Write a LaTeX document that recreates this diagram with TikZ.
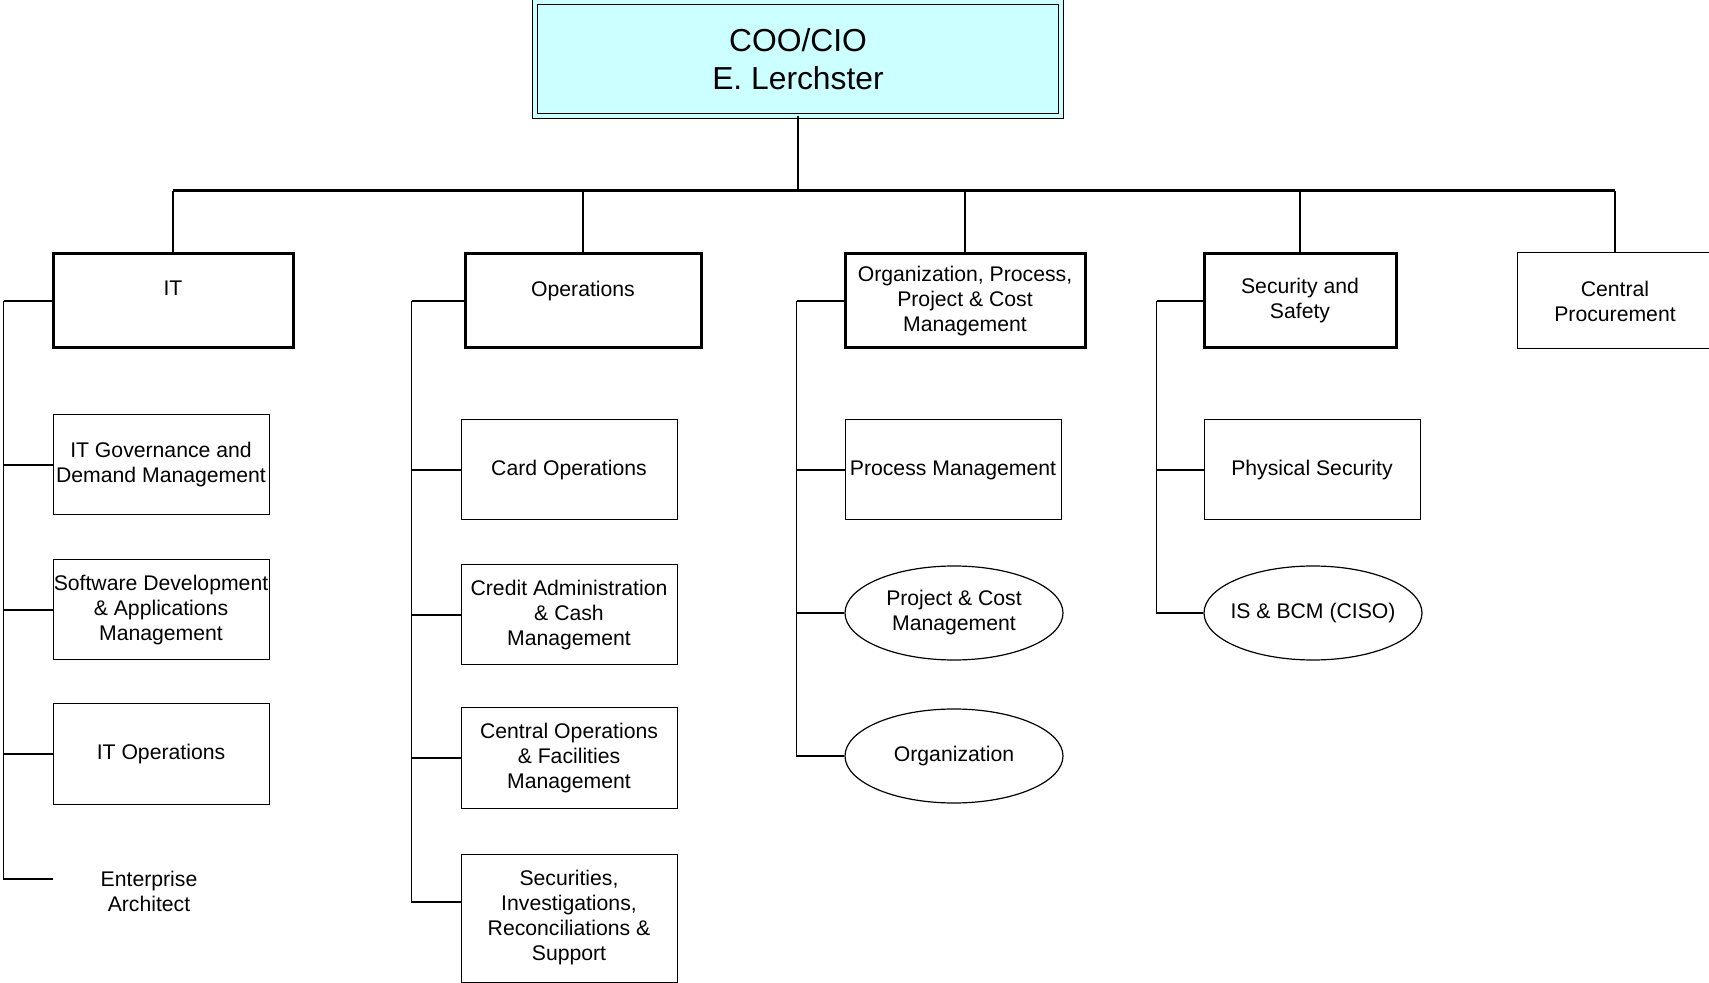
\documentclass[tikz,border=0pt]{standalone}
\usepackage{fontspec}
\setmainfont{Liberation Sans}
\usetikzlibrary{shapes.geometric}
\definecolor{headfill}{HTML}{CCFFFF}

\begin{document}
\begin{tikzpicture}[x=0.5pt,y=-0.5pt,
    every node/.style={align=center,font=\fontsize{10.6}{12.5}\selectfont,inner sep=1pt},
    topbox/.style={draw,line width=0.5pt,double=headfill,double distance=1.6pt,fill=headfill,
        minimum width=263pt,minimum height=57pt,font=\fontsize{15.9}{19}\selectfont},
    headbox/.style={draw,line width=1.5pt,minimum height=47pt},
    unitbox/.style={draw,line width=0.5pt,minimum width=108pt,minimum height=50pt,inner xsep=0pt},
    unitoval/.style={ellipse,draw,line width=0.6pt,minimum width=109pt,minimum height=47pt},
    bus/.style={line width=1.5pt},
    link/.style={line width=0.75pt}]
    \useasboundingbox (0,0) rectangle (1709,983);
            % draw the top box
            \node[topbox] (coo) at (798,59) {COO/CIO\\E. Lerchster};
            % draw the departments
            \node[headbox,minimum width=120pt] (it) at (173,301) {IT\\~};
            \node[headbox,minimum width=118pt] (ops) at (583,301) {Operations\\~};
            \node[headbox,minimum width=120pt] (org) at (965,301) {Organization, Process,\\Project \& Cost\\Management};
            \node[headbox,minimum width=96pt] (sec) at (1300,301) {Security and\\Safety};
            \node[draw,line width=0.5pt,minimum width=98pt,minimum height=48pt] (cp) at (1615,301) {Central\\Procurement};
            % draw the bus
            \coordinate (hub) at (798,191);
            \draw[bus] (it.north |- hub) -- (cp.north |- hub);
            \draw[line width=1.3pt] (coo.south) -- (hub);
            \foreach \d in {it,ops,org,sec}
                \draw[line width=1.3pt] (\d.north |- hub) -- (\d.north);
            \draw[link] (cp.north |- hub) -- (cp.north);
            % draw the units of IT
            \node[unitbox] (gov) at (161,465) {IT Governance and\\Demand Management};
            \node[unitbox] (swd) at (161,610) {Software Development\\\& Applications\\Management};
            \node[unitbox] (itops) at (161,754) {IT Operations};
            \node[minimum width=96pt] (ea) at (149,891) {Enterprise\\Architect};
            % draw the units of Operations
            \node[unitbox] (card) at (569,470) {Card Operations};
            \node[unitbox] (credit) at (569,615) {Credit Administration\\\& Cash\\Management};
            \node[unitbox] (central) at (569,758) {Central Operations\\\& Facilities\\Management};
            \node[unitbox,minimum height=64pt] (secs) at (569,918) {Securities,\\Investigations,\\Reconciliations \&\\Support};
            % draw the units of Organization
            \node[unitbox] (proc) at (953,470) {Process Management};
            \node[unitoval] (pcm) at (954,613) {Project \& Cost\\Management};
            \node[unitoval] (orga) at (954,756) {Organization};
            % draw the units of Security
            \node[unitbox] (phys) at (1312,470) {Physical Security};
            \node[unitoval,inner xsep=-8pt] (isbcm) at (1313,613) {IS \& BCM (CISO)};
            % draw the spines
            \draw[link] (it.west) -- ++(-48,0) coordinate (sp1);
            \foreach \n in {gov,swd,itops}
                \draw[link] (sp1) |- (\n.west);
            \draw[link] (sp1) |- ([yshift=6pt]ea.west);
            \draw[link] (ops.west) -- ++(-52,0) coordinate (sp2);
            \foreach \n in {card,credit,central}
                \draw[link] (sp2) |- (\n.west);
            \draw[link] (sp2) |- ([yshift=8pt]secs.west);
            \draw[link] (org.west) -- ++(-47,0) coordinate (sp3);
            \foreach \n in {proc,pcm,orga}
                \draw[link] (sp3) |- (\n.west);
            \draw[link] (sec.west) -- ++(-46,0) coordinate (sp4);
            \foreach \n in {phys,isbcm}
                \draw[link] (sp4) |- (\n.west);
\end{tikzpicture}
\end{document}
